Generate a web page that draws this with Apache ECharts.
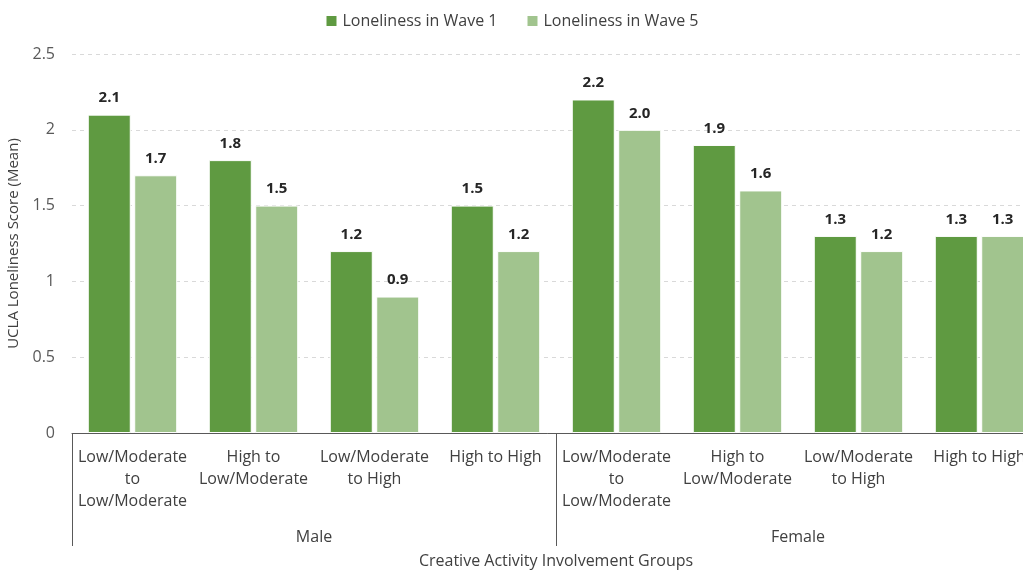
<!DOCTYPE html>
<html>
<head>
    <meta charset="utf-8" />
    <title>Loneliness by creative activity group</title>
    <style type="text/css">
        html, body { margin: 0; padding: 0; background: #fff; }
        #chart { width: 1023px; height: 570px; }
    </style>
    <script src="https://cdn.jsdelivr.net/npm/echarts@6.0.0/dist/echarts.min.js"></script>
</head>
<body>
    <div id="chart"></div>
    <script type="text/javascript">
        // 数据
        var categories = ['Low/Moderate\nto\nLow/Moderate', 'High to\nLow/Moderate', 'Low/Moderate\nto High', 'High to High',
            'Low/Moderate\nto\nLow/Moderate', 'High to\nLow/Moderate', 'Low/Moderate\nto High', 'High to High'];
        var groups = ['Male', 'Female'];
        var wave1 = [2.1, 1.8, 1.2, 1.5, 2.2, 1.9, 1.3, 1.3];
        var wave5 = [1.7, 1.5, 0.9, 1.2, 2.0, 1.6, 1.2, 1.3];

        var font = 'Open Sans';
        var chart = echarts.init(document.getElementById('chart'));

        function barLabel() {
            return {
                show: true,
                position: 'top',
                distance: 9,
                fontFamily: font,
                fontSize: 15,
                fontWeight: 'bold',
                color: '#262626',
                formatter: function (p) { return p.value.toFixed(1); }
            };
        }

        var option = {
            animation: false,
            textStyle: { fontFamily: font },
            legend: {
                top: 8,
                left: 'center',
                icon: 'rect',
                itemWidth: 12,
                itemHeight: 12,
                itemGap: 28,
                textStyle: { fontFamily: font, fontSize: 16, color: '#404040' },
                data: ['Loneliness in Wave 1', 'Loneliness in Wave 5']
            },
            grid: { left: 72, top: 54, width: 968, bottom: 137, outerBoundsMode: 'none' },
            xAxis: [{
                type: 'category',
                data: categories,
                axisTick: { show: false },
                axisLine: { lineStyle: { color: '#595959', width: 1 } },
                axisLabel: {
                    interval: 0,
                    margin: 13,
                    fontFamily: font,
                    fontSize: 16,
                    lineHeight: 22,
                    color: '#404040'
                },
                name: 'Creative Activity Involvement Groups',
                nameLocation: 'middle',
                nameGap: 120,
                nameTextStyle: { fontFamily: font, fontSize: 16, color: '#404040' }
            }, {
                type: 'category',
                data: groups,
                position: 'bottom',
                offset: 113,
                axisLine: { show: false },
                axisTick: { show: true, inside: true, length: 113, lineStyle: { color: '#595959' } },
                axisLabel: { margin: -17, fontFamily: font, fontSize: 16, color: '#404040' },
                splitLine: { show: false }
            }],
            yAxis: {
                type: 'value',
                min: 0,
                max: 2.5,
                interval: 0.5,
                axisLine: { show: false },
                axisTick: { show: false },
                axisLabel: { margin: 17, fontFamily: font, fontSize: 16, color: '#595959' },
                splitLine: { lineStyle: { color: '#d9d9d9', type: [4, 4] } },
                name: 'UCLA Loneliness Score (Mean)',
                nameLocation: 'middle',
                nameGap: 46,
                nameTextStyle: { fontFamily: font, fontSize: 15, color: '#404040' }
            },
            series: [{
                name: 'Loneliness in Wave 1',
                type: 'bar',
                data: wave1,
                barWidth: 43,
                barGap: '8%',
                itemStyle: { color: '#5f9a41', borderColor: '#fff', borderWidth: 1 },
                label: barLabel()
            }, {
                name: 'Loneliness in Wave 5',
                type: 'bar',
                data: wave5,
                barWidth: 43,
                itemStyle: { color: '#a1c48e', borderColor: '#fff', borderWidth: 1 },
                label: barLabel()
            }]
        };
        chart.setOption(option);
    </script>
</body>
</html>
